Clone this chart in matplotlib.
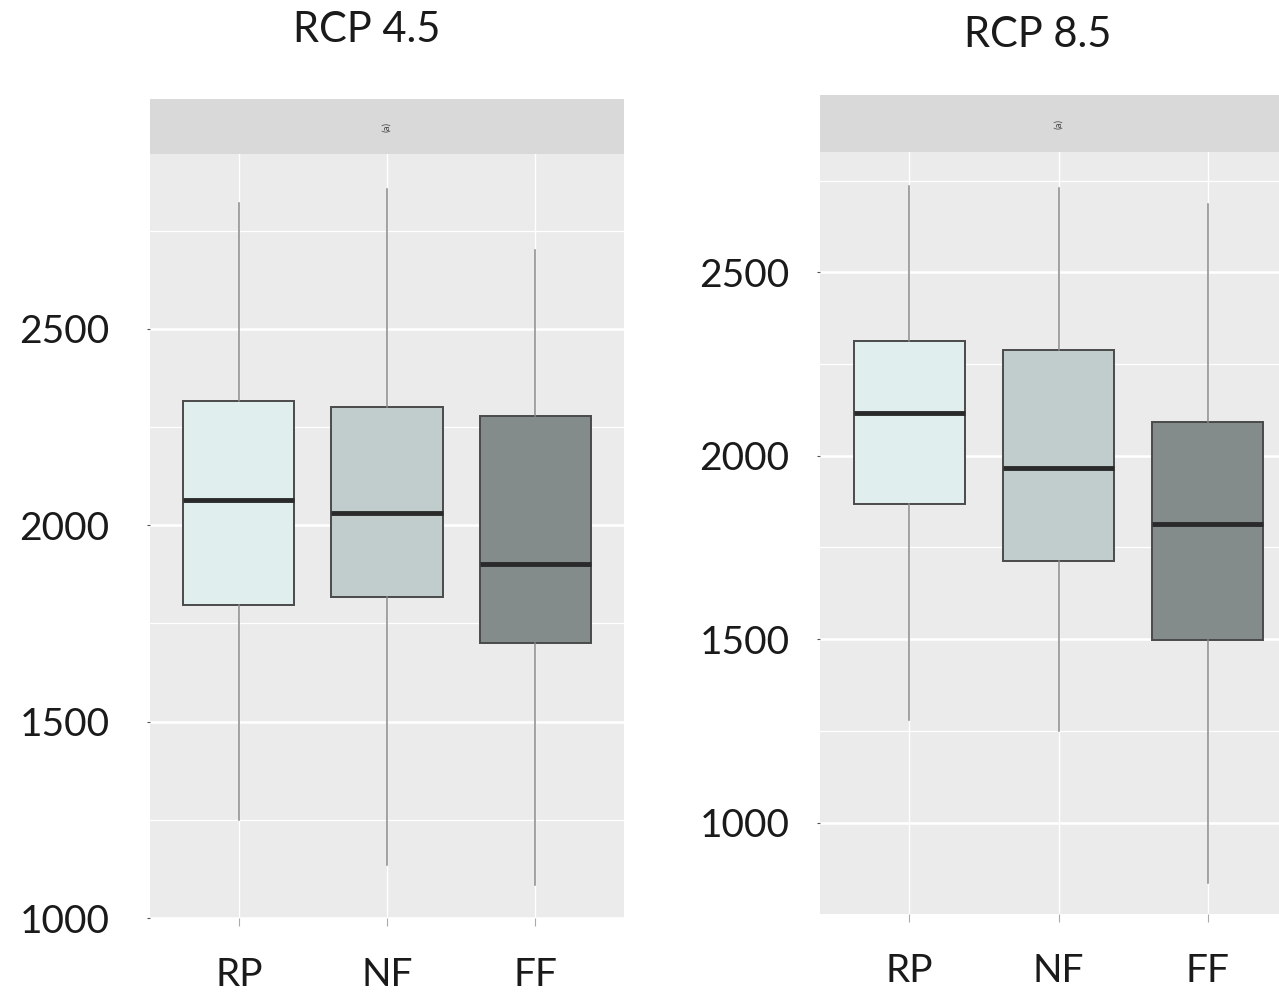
import matplotlib.pyplot as plt
import numpy as np

plt.rcParams['font.family'] = ['Lato', 'DejaVu Sans']

categories = ["RP", "NF", "FF"]
fills = ["#E0EEEE", "#C1CDCD", "#838B8B"]

# RCP 4.5 : lower whisker, Q1, median, Q3, upper whisker
rcp45_low = [1250, 1134, 1085]
rcp45_q1 = [1798, 1816, 1701]
rcp45_med = [2065, 2032, 1902]
rcp45_q3 = [2317, 2302, 2279]
rcp45_high = [2820, 2856, 2701]

# RCP 8.5
rcp85_low = [1281, 1251, 836]
rcp85_q1 = [1869, 1713, 1497]
rcp85_med = [2117, 1967, 1814]
rcp85_q3 = [2314, 2287, 2093]
rcp85_high = [2735, 2730, 2686]

W, H = 1279, 996
fig = plt.figure(figsize=(W / 100, H / 100), dpi=100)


def px(x0, y0, x1, y1):
    return [x0 / W, (H - y1) / H, (x1 - x0) / W, (y1 - y0) / H]


def panel(rect, strip_rect, title, title_xy, ylim, low, q1, med, q3, high, ypad):
    ax = fig.add_axes(px(*rect))
    stats = []
    for i in range(3):
        stats.append(dict(whislo=low[i], q1=q1[i], med=med[i], q3=q3[i],
                          whishi=high[i], fliers=[]))
    bp = ax.bxp(stats, positions=[1, 2, 3], widths=0.75, patch_artist=True,
                showcaps=False, showfliers=False,
                boxprops=dict(edgecolor="#4a4a4a", linewidth=1.4),
                whiskerprops=dict(color="#8a8a8a", linewidth=1.1),
                medianprops=dict(color="#2a2a2a", linewidth=3.5,
                                 solid_capstyle="butt"),
                zorder=3)
    for patch, c in zip(bp["boxes"], fills):
        patch.set_facecolor(c)
    ax.set_facecolor("#EBEBEB")
    ax.set_xlim(0.4, 3.6)
    ax.set_ylim(*ylim)
    ax.set_xticks([1, 2, 3])
    ax.set_xticklabels(categories)
    ax.set_yticks([1000, 1500, 2000, 2500])
    ax.set_yticks([1250, 1750, 2250, 2750], minor=True)
    ax.grid(True, which="major", axis="y", color="white", linewidth=1.8, zorder=0)
    ax.grid(True, which="major", axis="x", color="white", linewidth=1.0, zorder=0)
    ax.grid(True, which="minor", axis="y", color="white", linewidth=0.9, zorder=0)
    ax.set_axisbelow(True)
    for s in ax.spines.values():
        s.set_visible(False)
    ax.tick_params(axis="y", which="major", length=2, color="#555555",
                   labelsize=28, pad=ypad, labelcolor="#1a1a1a")
    ax.tick_params(axis="y", which="minor", length=0)
    ax.tick_params(axis="x", length=6, color="#aaaaaa", labelsize=28,
                   pad=22, labelcolor="#1a1a1a")

    sax = fig.add_axes(px(*strip_rect))
    sax.set_facecolor("#D9D9D9")
    sax.set_xticks([])
    sax.set_yticks([])
    for s in sax.spines.values():
        s.set_visible(False)
    sax.text(0.5, 0.5, "(a)", fontsize=7, rotation=90, ha="center",
             va="center", color="#444444", transform=sax.transAxes)

    fig.text(title_xy[0] / W, 1 - title_xy[1] / H, title, fontsize=30,
             ha="center", va="center", color="#1a1a1a")
    return ax


panel((150, 154, 624, 918), (150, 99, 624, 154), "RCP 4.5", (367, 30),
      (1000, 2945), rcp45_low, rcp45_q1, rcp45_med, rcp45_q3, rcp45_high, 27)
panel((820, 152, 1297, 914), (820, 95, 1297, 152), "RCP 8.5", (1038, 35),
      (751, 2828), rcp85_low, rcp85_q1, rcp85_med, rcp85_q3, rcp85_high, 20)

fig.savefig("out.png", dpi=100)
